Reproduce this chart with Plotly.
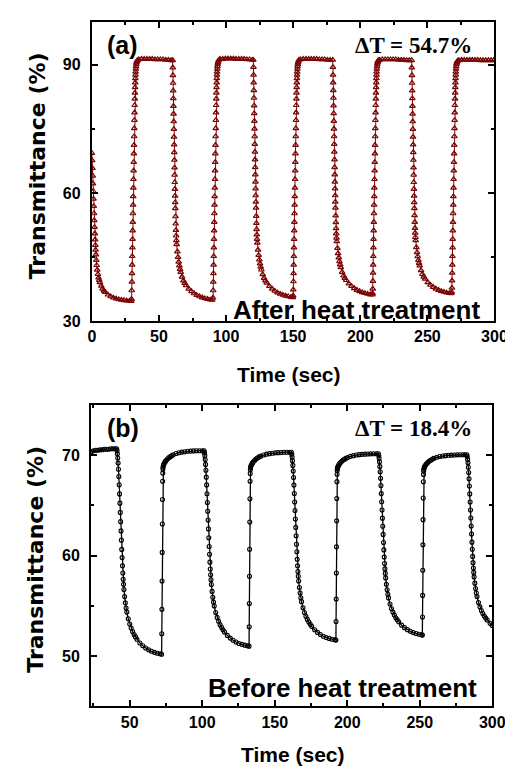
import plotly.graph_objects as go

# ---------------- Panel (a): after heat treatment (time s, transmittance %) ----------------
a0_t = [0.0,0.2,0.4,0.6,0.8,1.0,1.2,1.4,1.6,1.8,2.0,2.2,2.4,2.6,2.8,3.0,3.3,3.6,4.0,4.5,5.0,5.5,6.0,7.0,8.0,9.0,10.0,12.0,14.0,16.0,18.0,20.0,22.0,24.0,26.0,28.0,29.4]
a0_T = [69.3,67.6,65.8,64.0,62.2,60.4,58.6,56.9,55.2,53.6,52.0,50.5,49.1,47.8,46.7,45.6,44.3,43.1,42.0,41.0,40.2,39.6,39.1,38.3,37.6,37.1,36.8,36.2,35.8,35.5,35.3,35.1,35.0,34.9,34.8,34.75,34.7]

a_r1_t = [29.6,29.7,29.8,29.9,30.0,30.1,30.2,30.3,30.4,30.5,30.6,30.7,30.8,30.9,31.0,31.1,31.2,31.3,31.4,31.5,31.6,31.7,31.8,31.9,32.0,32.1,32.2,32.3,32.4,32.5,32.6,32.75,32.9,33.1,33.3,33.6,34.0]
a_r1_T = [35.2,37.2,39.2,41.2,43.2,45.2,47.2,49.2,51.2,53.2,55.2,57.2,59.2,61.2,63.2,65.2,67.2,69.2,71.2,73.2,75.1,77.0,78.8,80.5,82.0,83.4,84.7,85.8,86.8,87.6,88.3,89.0,89.6,90.1,90.5,90.8,91.0]
a_p1_t = [35.0,37.0,39.0,41.0,43.0,45.0,47.0,49.0,51.0,53.0,55.0,57.0,59.0]
a_p1_T = [91.2,91.3,91.3,91.3,91.3,91.3,91.2,91.2,91.2,91.2,91.1,91.1,91.0]
a_f1_t = [60.2,60.3,60.4,60.5,60.6,60.7,60.8,60.9,61.0,61.1,61.2,61.3,61.4,61.5,61.6,61.7,61.8,61.9,62.0,62.1,62.2,62.35,62.5,62.65,62.8,63.0,63.2,63.7,64.2,64.7,65.2,65.7,66.2,67.2,68.2,69.2,70.2,72.2,74.2,76.2,78.2,80.2,82.2,84.2,86.2,88.2,89.7]
a_f1_T = [91.0,89.3,87.5,85.7,83.9,82.1,80.3,78.5,76.7,74.9,73.1,71.3,69.5,67.7,65.9,64.2,62.5,60.9,59.3,57.8,56.4,54.5,52.8,51.3,50.0,48.9,48.0,46.3,45.0,43.9,43.0,42.2,41.5,40.4,39.5,38.9,38.4,37.6,37.0,36.5,36.1,35.8,35.55,35.35,35.2,35.05,35.0]

a_r2_t = [90.3,90.4,90.5,90.6,90.7,90.8,90.9,91.0,91.1,91.2,91.3,91.4,91.5,91.6,91.7,91.8,91.9,92.0,92.1,92.2,92.3,92.4,92.5,92.6,92.7,92.8,92.9,93.0,93.1,93.2,93.3,93.45,93.6,93.8,94.0,94.3,94.7]
a_r2_T = [35.5,37.2,39.2,41.2,43.2,45.2,47.2,49.2,51.2,53.2,55.2,57.2,59.2,61.2,63.2,65.2,67.2,69.2,71.2,73.2,75.1,77.0,78.8,80.5,82.0,83.4,84.7,85.8,86.8,87.6,88.3,89.0,89.6,90.1,90.5,90.9,91.1]
a_p2_t = [95.5,97.5,99.5,101.5,103.5,105.5,107.5,109.5,111.5,113.5,115.5,117.5,119.5]
a_p2_T = [91.3,91.3,91.4,91.4,91.4,91.4,91.3,91.3,91.3,91.3,91.2,91.2,91.1]
a_f2_t = [120.3,120.4,120.5,120.6,120.7,120.8,120.9,121.0,121.1,121.2,121.3,121.4,121.5,121.6,121.7,121.8,121.9,122.0,122.1,122.2,122.3,122.45,122.6,122.75,122.9,123.1,123.3,123.8,124.3,124.8,125.3,125.8,126.3,127.3,128.3,129.3,130.3,132.3,134.3,136.3,138.3,140.3,142.3,144.3,146.3,148.3,149.8]
a_f2_T = [91.1,89.4,87.6,85.8,84.0,82.2,80.4,78.6,76.8,75.0,73.2,71.4,69.6,67.8,66.0,64.3,62.6,61.0,59.4,57.9,56.5,54.6,52.95,51.5,50.25,49.2,48.35,46.7,45.45,44.4,43.5,42.7,42.05,40.95,40.1,39.5,39.0,38.2,37.6,37.1,36.7,36.4,36.15,35.95,35.8,35.65,35.6]

a_r3_t = [150.0,150.1,150.2,150.3,150.4,150.5,150.6,150.7,150.8,150.9,151.0,151.1,151.2,151.3,151.4,151.5,151.6,151.7,151.8,151.9,152.0,152.1,152.2,152.3,152.4,152.5,152.6,152.7,152.8,152.9,153.0,153.15,153.3,153.5,153.7,154.0,154.4]
a_r3_T = [36.0,37.4,39.3,41.2,43.2,45.2,47.2,49.2,51.2,53.2,55.2,57.2,59.2,61.2,63.2,65.2,67.2,69.2,71.2,73.2,75.1,77.0,78.8,80.5,82.0,83.4,84.7,85.8,86.8,87.6,88.3,89.0,89.6,90.1,90.5,90.9,91.1]
a_p3_t = [155.5,157.5,159.5,161.5,163.5,165.5,167.5,169.5,171.5,173.5,175.5,177.5]
a_p3_T = [91.2,91.3,91.3,91.3,91.3,91.3,91.3,91.2,91.2,91.2,91.1,91.1]
a_f3_t = [179.5,179.6,179.7,179.8,179.9,180.0,180.1,180.2,180.3,180.4,180.5,180.6,180.7,180.8,180.9,181.0,181.1,181.2,181.3,181.4,181.5,181.65,181.8,181.95,182.1,182.3,182.5,183.0,183.5,184.0,184.5,185.0,185.5,186.5,187.5,188.5,189.5,191.5,193.5,195.5,197.5,199.5,201.5,203.5,205.5,207.5,209.0]
a_f3_T = [91.1,89.4,87.6,85.8,84.0,82.2,80.4,78.6,76.8,75.0,73.2,71.4,69.6,67.8,66.0,64.3,62.6,61.0,59.4,57.9,56.5,54.7,53.1,51.7,50.5,49.5,48.7,47.1,45.9,44.9,44.0,43.25,42.6,41.5,40.65,40.1,39.6,38.8,38.2,37.7,37.3,37.0,36.75,36.55,36.4,36.25,36.2]

a_r4_t = [209.2,209.3,209.4,209.5,209.6,209.7,209.8,209.9,210.0,210.1,210.2,210.3,210.4,210.5,210.6,210.7,210.8,210.9,211.0,211.1,211.2,211.3,211.4,211.5,211.6,211.7,211.8,211.9,212.0,212.1,212.2,212.35,212.5,212.7,212.9,213.2,213.6]
a_r4_T = [36.5,37.6,39.4,41.3,43.2,45.2,47.2,49.2,51.2,53.2,55.2,57.2,59.2,61.2,63.2,65.2,67.2,69.2,71.2,73.2,75.1,77.0,78.8,80.5,82.0,83.4,84.7,85.8,86.8,87.6,88.3,89.0,89.6,90.1,90.5,90.8,91.0]
a_p4_t = [214.5,216.5,218.5,220.5,222.5,224.5,226.5,228.5,230.5,232.5,234.5,236.5]
a_p4_T = [91.1,91.2,91.2,91.2,91.2,91.2,91.2,91.1,91.1,91.1,91.0,91.0]
a_f4_t = [238.3,238.4,238.5,238.6,238.7,238.8,238.9,239.0,239.1,239.2,239.3,239.4,239.5,239.6,239.7,239.8,239.9,240.0,240.1,240.2,240.3,240.45,240.6,240.75,240.9,241.1,241.3,241.8,242.3,242.8,243.3,243.8,244.3,245.3,246.3,247.3,248.3,250.3,252.3,254.3,256.3,258.3,260.3,262.3,264.3,266.3,267.8]
a_f4_T = [91.0,89.3,87.5,85.7,83.9,82.1,80.3,78.5,76.7,74.9,73.1,71.3,69.5,67.7,65.9,64.2,62.5,60.9,59.3,57.8,56.4,54.75,53.2,51.8,50.65,49.65,48.9,47.3,46.1,45.15,44.3,43.6,43.0,41.9,41.0,40.4,39.9,39.1,38.5,38.0,37.6,37.3,37.05,36.85,36.7,36.55,36.5]

a_r5_t = [268.2,268.3,268.4,268.5,268.6,268.7,268.8,268.9,269.0,269.1,269.2,269.3,269.4,269.5,269.6,269.7,269.8,269.9,270.0,270.1,270.2,270.3,270.4,270.5,270.6,270.7,270.8,270.9,271.0,271.1,271.2,271.35,271.5,271.7,271.9,272.2,272.6]
a_r5_T = [36.8,37.8,39.5,41.3,43.2,45.2,47.2,49.2,51.2,53.2,55.2,57.2,59.2,61.2,63.2,65.2,67.2,69.2,71.2,73.2,75.1,77.0,78.8,80.5,82.0,83.4,84.7,85.8,86.8,87.6,88.3,89.0,89.6,90.1,90.4,90.7,90.9]
a_p5_t = [273.5,275.5,277.5,279.5,281.5,283.5,285.5,287.5,289.5,291.5,293.5,295.5,297.5,299.5]
a_p5_T = [91.0,91.1,91.1,91.1,91.1,91.1,91.1,91.1,91.0,91.0,91.0,91.0,91.0,91.0]

# ---------------- Panel (b): before heat treatment ----------------
b0_t = [23.5,25.0,26.5,28.0,29.5,31.0,32.5,34.0,35.5,37.0,38.5,40.0]
b0_T = [70.35,70.45,70.5,70.5,70.55,70.55,70.6,70.6,70.6,70.65,70.65,70.65]
b_f1_t = [41.0,41.25,41.5,41.75,42.0,42.25,42.5,42.75,43.0,43.25,43.5,43.75,44.0,44.25,44.5,44.75,45.0,45.25,45.5,45.75,46.0,46.5,47.0,47.5,48.0,49.0,50.0,51.0,52.0,53.0,54.0,55.0,57.0,59.0,61.0,63.0,65.0,67.0,69.0,71.0]
b_f1_T = [70.65,70.45,70.14,69.73,69.22,68.6,67.89,67.07,66.15,65.23,64.31,63.39,62.47,61.55,60.63,59.81,58.99,58.28,57.66,57.15,56.64,55.93,55.31,54.8,54.39,53.72,53.21,52.8,52.45,52.16,51.92,51.69,51.32,51.04,50.81,50.63,50.49,50.38,50.3,50.24]
b_r1_t = [72.0,72.1,72.2,72.3,72.4,72.5,72.6,72.7,72.8,72.9,73.0,73.25,73.5,74.0,74.5,75.0,76.0,77.0,78.0,79.0,80.0,82.0,84.0,86.0,88.0,90.0,92.0,94.0,96.0,98.0,100.0]
b_r1_T = [50.2,52.23,54.66,57.49,60.33,63.16,65.59,67.41,68.22,68.63,68.83,68.99,69.09,69.24,69.36,69.46,69.62,69.76,69.86,69.96,70.05,70.17,70.25,70.31,70.35,70.39,70.41,70.43,70.44,70.45,70.45]
b_f2_t = [101.3,101.55,101.8,102.05,102.3,102.55,102.8,103.05,103.3,103.55,103.8,104.05,104.3,104.55,104.8,105.05,105.3,105.55,105.8,106.05,106.3,106.8,107.3,107.8,108.3,109.3,110.3,111.3,112.3,113.3,114.3,115.3,117.3,119.3,121.3,123.3,125.3,127.3,129.3,131.3]
b_f2_T = [70.45,70.26,69.96,69.57,69.09,68.51,67.82,67.05,66.17,65.3,64.42,63.55,62.67,61.79,60.92,60.14,59.36,58.68,58.1,57.61,57.13,56.45,55.86,55.38,54.99,54.35,53.86,53.47,53.14,52.87,52.63,52.42,52.07,51.8,51.58,51.41,51.27,51.18,51.1,51.04]
b_r2_t = [132.3,132.4,132.5,132.6,132.7,132.8,132.9,133.0,133.1,133.2,133.3,133.55,133.8,134.3,134.8,135.3,136.3,137.3,138.3,139.3,140.3,142.3,144.3,146.3,148.3,150.3,152.3,154.3,156.3,158.3,160.3]
b_r2_T = [51.0,52.93,55.25,57.95,60.65,63.35,65.67,67.41,68.18,68.56,68.76,68.91,69.01,69.14,69.26,69.35,69.51,69.64,69.74,69.84,69.91,70.03,70.11,70.16,70.2,70.24,70.26,70.28,70.29,70.3,70.3]
b_f3_t = [161.5,161.75,162.0,162.25,162.5,162.75,163.0,163.25,163.5,163.75,164.0,164.25,164.5,164.75,165.0,165.25,165.5,165.75,166.0,166.25,166.5,167.0,167.5,168.0,168.5,169.5,170.5,171.5,172.5,173.5,174.5,175.5,177.5,179.5,181.5,183.5,185.5,187.5,189.5,191.5]
b_f3_T = [70.3,70.11,69.83,69.46,68.99,68.43,67.78,67.03,66.19,65.34,64.5,63.66,62.82,61.98,61.14,60.39,59.64,58.99,58.43,57.96,57.49,56.84,56.28,55.81,55.43,54.82,54.35,53.97,53.66,53.4,53.17,52.97,52.63,52.37,52.16,51.99,51.86,51.77,51.69,51.64]
b_r3_t = [192.2,192.3,192.4,192.5,192.6,192.7,192.8,192.9,193.0,193.1,193.2,193.45,193.7,194.2,194.7,195.2,196.2,197.2,198.2,199.2,200.2,202.2,204.2,206.2,208.2,210.2,212.2,214.2,216.2,218.2,220.2]
b_r3_T = [51.6,53.46,55.68,58.28,60.88,63.47,65.7,67.37,68.11,68.48,68.67,68.81,68.91,69.04,69.15,69.24,69.39,69.52,69.61,69.7,69.78,69.89,69.96,70.02,70.06,70.09,70.11,70.13,70.14,70.15,70.15]
b_f4_t = [221.5,221.75,222.0,222.25,222.5,222.75,223.0,223.25,223.5,223.75,224.0,224.25,224.5,224.75,225.0,225.25,225.5,225.75,226.0,226.25,226.5,227.0,227.5,228.0,228.5,229.5,230.5,231.5,232.5,233.5,234.5,235.5,237.5,239.5,241.5,243.5,245.5,247.5,249.5,251.5]
b_f4_T = [70.15,69.97,69.7,69.34,68.89,68.35,67.71,66.99,66.18,65.37,64.55,63.74,62.93,62.12,61.31,60.58,59.86,59.23,58.69,58.24,57.79,57.15,56.61,56.16,55.8,55.2,54.75,54.39,54.09,53.83,53.62,53.42,53.09,52.84,52.64,52.48,52.35,52.26,52.19,52.14]
b_r4_t = [251.8,251.9,252.0,252.1,252.2,252.3,252.4,252.5,252.6,252.7,252.8,253.05,253.3,253.8,254.3,254.8,255.8,256.8,257.8,258.8,259.8,261.8,263.8,265.8,267.8,269.8,271.8,273.8,275.8,277.8,279.8,281.2]
b_r4_T = [52.1,53.9,56.05,58.56,61.08,63.59,65.74,67.36,68.08,68.43,68.61,68.76,68.85,68.97,69.08,69.17,69.31,69.44,69.53,69.62,69.69,69.8,69.87,69.92,69.96,70.0,70.01,70.03,70.04,70.05,70.05,70.05]
b_f5_t = [282.5,282.75,283.0,283.25,283.5,283.75,284.0,284.25,284.5,284.75,285.0,285.25,285.5,285.75,286.0,286.25,286.5,286.75,287.0,287.25,287.5,288.0,288.5,289.0,289.5,290.5,291.5,292.5,293.5,294.5,295.5,296.5,298.5,300.0]
b_f5_T = [70.05,69.87,69.61,69.25,68.81,68.28,67.65,66.94,66.15,65.35,64.55,63.75,62.95,62.15,61.35,60.64,59.93,59.31,58.78,58.34,57.89,57.27,56.74,56.29,55.94,55.35,54.91,54.55,54.25,54.0,53.79,53.6,53.28,53.05]

# ---------------- Axis ticks and labels ----------------
a_xticks = [0, 50, 100, 150, 200, 250, 300]
a_yticks = [30, 60, 90]
b_xticks = [50, 100, 150, 200, 250, 300]
b_yticks = [50, 60, 70]
label_a, label_b = "(a)", "(b)"
delta_a, delta_b = "ΔT = 54.7%", "ΔT = 18.4%"
cond_a, cond_b = "After heat treatment", "Before heat treatment"
x_title = "Time (sec)"
y_title = "Transmittance (%)"

a_segments = [(a0_t, a0_T), (a_r1_t, a_r1_T), (a_p1_t, a_p1_T), (a_f1_t, a_f1_T),
              (a_r2_t, a_r2_T), (a_p2_t, a_p2_T), (a_f2_t, a_f2_T),
              (a_r3_t, a_r3_T), (a_p3_t, a_p3_T), (a_f3_t, a_f3_T),
              (a_r4_t, a_r4_T), (a_p4_t, a_p4_T), (a_f4_t, a_f4_T),
              (a_r5_t, a_r5_T), (a_p5_t, a_p5_T)]
b_segments = [(b0_t, b0_T), (b_f1_t, b_f1_T), (b_r1_t, b_r1_T), (b_f2_t, b_f2_T),
              (b_r2_t, b_r2_T), (b_f3_t, b_f3_T), (b_r3_t, b_r3_T), (b_f4_t, b_f4_T),
              (b_r4_t, b_r4_T), (b_f5_t, b_f5_T)]

def join(segs):
    xs, ys = [], []
    for i, (t, v) in enumerate(segs):
        if len(t) != len(v):
            raise ValueError(f"segment {i}: {len(t)} times vs {len(v)} values")
        xs += t
        ys += v
    return xs, ys

a_t, a_T = join(a_segments)
b_t, b_T = join(b_segments)

RED = "#7a0505"
fig = go.Figure()
fig.add_trace(go.Scatter(x=a_t, y=a_T, mode="lines+markers", xaxis="x", yaxis="y",
                         line=dict(color=RED, width=1),
                         marker=dict(symbol="triangle-up-open", size=5, color=RED,
                                     line=dict(width=1.2, color=RED)),
                         showlegend=False))
fig.add_trace(go.Scatter(x=b_t, y=b_T, mode="lines+markers", xaxis="x2", yaxis="y2",
                         line=dict(color="black", width=1.3),
                         marker=dict(symbol="circle-open", size=4, color="black",
                                     line=dict(width=1.1, color="black")),
                         showlegend=False))

tickfont = dict(family="Liberation Sans, Arial, sans-serif", size=16, color="black", weight="bold")
common = dict(showline=True, linewidth=2, linecolor="black", mirror="allticks",
              ticks="inside", ticklen=6, tickwidth=1.5, tickcolor="black",
              showgrid=False, zeroline=False, tickfont=tickfont)

W, H = 513, 769
fig.update_layout(
    width=W, height=H, margin=dict(l=0, r=0, t=0, b=0),
    paper_bgcolor="white", plot_bgcolor="white",
    xaxis=dict(domain=[82.6 / W, 499 / W], range=[0, 300], anchor="y", tickvals=a_xticks,
               minor=dict(ticks="inside", ticklen=3, tickcolor="black", dtick=25, tick0=0), **common),
    yaxis=dict(domain=[1 - 317 / H, 1 - 14 / H], range=[30, 100], anchor="x", tickvals=a_yticks,
               ticklabelstandoff=6,
               minor=dict(ticks="inside", ticklen=3, tickcolor="black", dtick=15, tick0=30), **common),
    xaxis2=dict(domain=[81.7 / W, 496.7 / W], range=[23.3, 300], anchor="y2", tickvals=b_xticks,
                minor=dict(ticks="inside", ticklen=3, tickcolor="black", dtick=25, tick0=0), **common),
    yaxis2=dict(domain=[1 - 706.7 / H, 1 - 401.7 / H], range=[45, 75], anchor="x2", tickvals=b_yticks,
                ticklabelstandoff=6,
                minor=dict(ticks="inside", ticklen=3, tickcolor="black", dtick=5, tick0=45), **common),
)

sans = "Liberation Sans, Arial, sans-serif"
def ann(text, x, y, size, xanchor="center", family=sans, angle=0):
    fig.add_annotation(text=text, x=x / W, y=1 - y / H, xref="paper", yref="paper",
                       xanchor=xanchor, yanchor="middle", showarrow=False, textangle=angle,
                       font=dict(family=family, size=size, color="black", weight="bold"))

ann(label_a, 96, 37, 25, "left")
ann(label_b, 96, 425, 25, "left")
ann(delta_a, 478, 38, 23, "right", "Liberation Serif, Times New Roman, serif")
ann(delta_b, 478, 425, 23, "right", "Liberation Serif, Times New Roman, serif")
ann(cond_a, 486, 306, 26, "right")
ann(cond_b, 483, 688, 26, "right")
ann(x_title, 287, 371, 21)
ann(x_title, 291, 755, 21)
ann(y_title, 26, 160, 22, family="DejaVu Sans, sans-serif", angle=-90)
ann(y_title, 24, 558, 22, family="DejaVu Sans, sans-serif", angle=-90)

fig.write_html("out.html")
